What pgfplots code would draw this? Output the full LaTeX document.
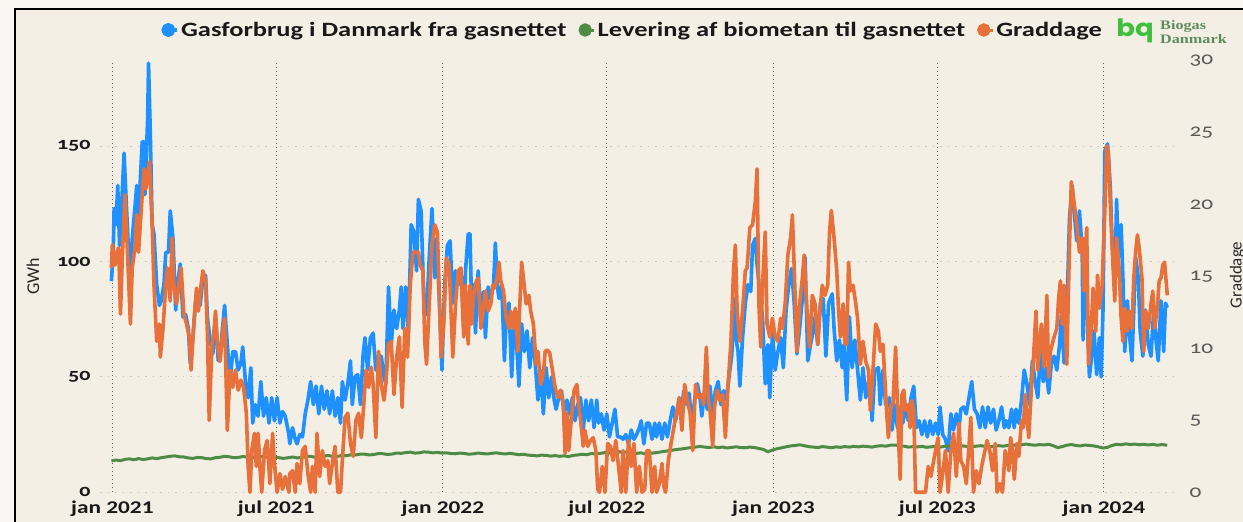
\documentclass[border=0pt]{standalone}
\usepackage{pgfplots}
\pgfplotsset{compat=1.18}
\usepackage{fontspec}
\setmainfont{Carlito}[FakeStretch=1.3]
\newfontfamily\tickfont{Carlito}[FakeStretch=1.3,Numbers=OldStyle]
\newfontfamily\plainfont{Carlito}
\newfontfamily\logofont{Liberation Serif}[FakeStretch=1.25]
\newfontfamily\logobq{Poppins}[FakeStretch=1.15]
\definecolor{bg}{RGB}{243,239,229}
\definecolor{gblue}{RGB}{30,144,255}
\definecolor{ggreen}{RGB}{78,139,69}
\definecolor{gorange}{RGB}{232,112,58}
\definecolor{logogreen}{RGB}{62,192,62}
\definecolor{logotext}{RGB}{95,140,95}
\begin{document}
\begin{tikzpicture}
\fill[bg] (0bp,0bp) rectangle (1243bp,522bp);
\fill[white!50!bg] (0bp,0bp) rectangle (15bp,522bp);
\fill[white!50!bg] (0bp,512.7bp) rectangle (1243bp,522bp);
\draw[black, line width=2bp] (15bp,0bp) -- (15bp,512.7bp) -- (1243bp,512.7bp);

\begin{axis}[
  at={(100bp,29.7bp)}, anchor=south west,
  width=1075bp, height=431.4bp, scale only axis,
  xmin=-13.6, xmax=1173.5, ymin=0, ymax=187,
  clip=false,
  axis line style={draw=none},
  major tick style={draw=none},
  xtick={0,181,365,546,730,911,1095},
  xticklabels={jan 2021,jul 2021,jan 2022,jul 2022,jan 2023,jul 2023,jan 2024},
  ytick={0,50,100,150},
  xmajorgrids, ymajorgrids,
  x grid style={color=black!60, line width=1.1bp, dash pattern=on 1bp off 3bp},
  y grid style={color=black!22, line width=1bp, dash pattern=on 1.5bp off 6bp},
  xticklabel style={font={\bfseries\fontsize{18}{20}\selectfont}, text=black!90, yshift=-5bp},
  yticklabel style={font={\tickfont\bfseries\fontsize{17}{20}\selectfont}, text=black!90, xshift=-6bp},
  /pgf/number format/assume math mode=true,
  legend columns=3,
  legend style={at={(0.4955,1.0716)}, anchor=center, draw=none, fill=none,
    font={\bfseries\fontsize{20.4}{24}\selectfont}, text=black!90,
    /tikz/every even column/.append style={column sep=10bp}},
  legend image code/.code={\fill[#1] (0bp,0bp) circle (5.2bp); \path (-5.2bp,0bp) -- (9bp,0bp);},
]
\addplot[color=gblue, line width=3.6bp, line join=round] coordinates {
(-1,91.5)(1,104)(2,123)(4,116)(6,133)(8,107)(10,122)(13,147)(15,129)(18,104)(20,96)(22,110)(24,119)(27,133)(29,120)(33,152)(35,152)(36,129)(39,162)(40,186)(42,155)(44,116)(46,112)(49,90)(52,81)(54,83)(57,90)(59,104)(62,104)(64,122)(67,110)(70,79)(72,90)(75,99)(78,76)(81,77)(84,71)(86,56)(89,67)(92,83)(94,87)(97,81)(100,93)(103,94)(105,76)(108,66)(111,60)(114,76)(117,57)(120,64)(124,81)(127,64)(130,48)(133,61)(136,61)(139,53)(142,56)(144,63)(147,48)(150,41)(153,54)(155,30)(158,38)(161,33)(164,48)(167,33)(170,41)(173,30)(176,41)(179,31)(182,41)(185,30)(188,35)(191,33)(195,25)
(196,21)(199,28)(202,23)(204,21)(207,25)(210,24)(213,34)(216,40)(219,48)(222,38)(225,46)(228,34)(231,46)(234,36)(237,44)(240,34)(243,44)(246,33)(249,41)(252,30)(254,48)(257,40)(260,47)(263,57)(265,38)(268,50)(271,51)(274,38)(277,60)(279,67)(282,53)(285,67)(288,69)(291,53)(294,59)(297,59)(300,50)(302,47)(305,89)(308,64)(311,79)(314,71)(317,79)(319,89)(321,71)(324,89)(327,69)(330,116)(333,113)(336,96)(338,127)(341,122)(344,84)(347,77)(350,102)(353,123)(356,93)(358,110)(361,84)(364,53)(367,90)(370,107)(373,109)(376,82)(379,96)(382,90)(385,96)(388,73)(390,96)(393,112)
(395,112)(397,76)(399,90)(401,69)(404,96)(407,76)(410,87)(412,67)(415,89)(418,84)(421,90)(423,108)(425,90)(427,84)(430,90)(433,57)(435,76)(438,82)(441,50)(444,76)(447,61)(449,46)(452,73)(455,61)(458,70)(461,54)(464,67)(467,56)(470,40)(473,53)(476,34)(479,54)(482,41)(485,50)(488,40)(490,36)(493,41)(496,44)(499,34)(502,40)(505,34)(508,41)(511,31)(514,38)(517,41)(520,27)(523,40)(526,31)(529,40)(532,28)(535,40)(537,30)(540,34)(543,27)(546,34)(549,24)(552,30)(555,36)(558,24)(561,24)(564,23)(567,25)(570,21)(573,27)(576,23)(579,25)(582,28)(584,31)(587,21)(590,30)
(593,30)(596,23)(599,30)(601,24)(604,30)(607,23)(610,30)(613,24)(616,31)(619,37)(622,31)(625,38)(628,33)(631,44)(634,38)(637,43)(640,28)(643,40)(646,47)(649,41)(651,33)(654,44)(657,36)(660,46)(663,34)(666,44)(669,48)(672,38)(675,44)(678,40)(681,50)(684,59)(687,84)(689,66)(691,61)(693,46)(696,67)(699,82)(702,90)(705,87)(707,107)(710,110)(712,99)(715,86)(718,76)(721,47)(724,64)(726,41)(729,69)(732,53)(735,61)(738,67)(741,54)(744,79)(747,90)(750,97)(753,82)(756,60)(759,71)(762,84)(765,102)(768,57)(771,64)(774,70)(776,76)(779,64)(782,82)(785,84)(788,59)(791,82)
(795,86)(797,71)(800,57)(803,66)(806,54)(808,64)(811,40)(814,76)(817,54)(820,66)(823,53)(826,40)(829,54)(832,41)(836,50)(839,31)(842,53)(846,54)(848,38)(851,53)(854,38)(858,41)(861,27)(864,38)(867,28)(870,37)(873,30)(876,38)(879,31)(882,41)(885,46)(888,28)(891,31)(894,25)(897,31)(900,24)(903,31)(906,25)(909,30)(912,25)(914,37)(917,25)(920,23)(923,18)(926,34)(929,27)(932,34)(935,28)(937,36)(940,37)(943,34)(946,41)(949,48)(952,36)(955,34)(958,28)(961,37)(964,28)(967,37)(970,30)(973,36)(976,27)(979,31)(982,37)(985,28)(987,31)
(990,28)(993,36)(996,28)(998,36)(1001,30)(1004,40)(1007,53)(1010,47)(1013,38)(1016,57)(1019,48)(1022,41)(1025,61)(1028,48)(1031,54)(1034,43)(1037,56)(1040,59)(1043,53)(1046,64)(1048,77)(1051,56)(1054,77)(1057,119)(1060,133)(1062,122)(1065,109)(1068,122)(1071,105)(1072,66)(1074,110)(1076,82)(1079,50)(1082,61)(1084,70)(1087,51)(1090,67)(1092,50)(1094,79)(1096,148)(1099,151)(1102,133)(1104,109)(1107,87)(1109,127)(1111,102)(1114,116)(1116,93)(1118,61)(1121,83)(1123,69)(1126,57)(1128,79)(1130,102)(1133,93)(1135,70)(1138,59)(1141,79)(1144,64)(1147,59)(1150,79)(1153,64)(1155,57)(1158,83)(1161,61)(1163,82)(1165,80)
};
\addlegendentry{Gasforbrug i Danmark fra gasnettet}
\addplot[color=ggreen, line width=3bp, line join=round] coordinates {
(-1,13.6)(4,14.0)(9,13.7)(14,14.3)(19,14.5)(24,14.1)(29,14.6)(34,14.2)(39,14.5)(44,14.9)(49,14.6)(54,15.0)(59,15.3)(64,15.6)(69,15.8)(74,15.4)(79,15.3)(84,14.9)(89,14.7)(94,15.1)(99,15.0)(104,14.6)(109,14.5)(114,15.0)(119,15.2)(124,15.6)(129,15.4)(134,15.0)(139,15.1)(144,15.5)(149,15.3)(154,14.9)(159,15.1)(164,15.5)(169,15.4)(174,15.0)(179,15.3)(184,15.0)(189,14.7)(194,15.0)(199,15.3)(204,14.9)(209,15.1)(214,15.5)(219,15.6)(224,15.2)(229,15.4)(234,15.8)(239,15.9)(244,15.5)(249,15.6)(254,16.0)(259,15.9)(264,16.3)(269,16.2)(274,16.6)(279,16.5)(284,16.2)(289,16.4)(294,16.8)(299,16.7)(304,16.4)(309,16.6)(314,17.0)(319,16.9)(324,17.2)(329,17.4)(334,17.0)(339,17.1)(344,17.5)(349,17.4)(354,17.1)(359,17.3)(364,17.0)(369,17.1)(374,16.8)(379,16.7)(384,17.0)(389,16.8)(394,16.5)(399,16.7)(404,17.0)(409,16.8)(414,16.6)(419,16.9)(424,17.1)(429,16.8)(434,16.6)(439,16.9)(444,16.6)(449,16.3)(454,16.5)(459,16.1)(464,16.0)(469,15.8)(474,16.1)(479,16.0)(484,15.7)(489,15.9)(494,15.6)(499,15.8)(504,15.5)(509,16.0)(514,16.2)(519,16.5)(524,16.3)(529,16.8)(534,16.6)(539,16.9)(544,17.2)(549,17.0)(554,17.4)(559,17.6)(564,17.3)(569,17.5)(574,17.1)(579,16.9)(584,17.1)(589,16.6)(594,16.9)(599,17.1)(604,17.4)(609,17.7)(614,18.0)(619,18.3)(624,18.6)(629,18.8)(634,19.1)(639,19.4)(644,19.6)(649,19.9)(654,19.6)(659,19.4)(664,19.7)(669,19.4)(674,19.6)(679,19.2)(684,19.5)(689,19.7)(694,19.4)(699,19.3)(704,19.6)(709,19.4)(714,19.0)(719,18.6)(724,17.6)(729,18.3)(734,18.9)(739,19.3)(744,19.7)(749,20.1)(754,20.3)(759,20.6)(764,20.2)(769,19.8)(774,19.6)(779,19.4)(784,19.8)(789,19.6)(794,19.3)(799,19.7)(804,19.5)(809,19.8)(814,19.6)(819,19.9)(824,19.7)(829,20.0)(834,19.8)(839,19.6)(844,20.0)(849,20.2)(854,20.0)(859,20.4)(864,20.5)(869,20.2)(874,20.0)(879,19.6)(884,19.8)(889,19.7)(894,19.9)(899,19.5)(904,19.7)(909,19.9)(914,19.6)(919,19.9)(924,20.1)(929,19.7)(934,19.8)(939,20.1)(944,19.9)(949,19.7)(954,20.0)(959,20.2)(964,19.9)(969,19.7)(974,20.0)(979,20.2)(984,20.0)(989,20.3)(994,20.5)(999,20.3)(1004,20.6)(1009,20.9)(1014,20.6)(1019,20.4)(1024,20.7)(1029,20.5)(1034,20.8)(1039,20.2)(1044,19.4)(1049,19.8)(1054,20.4)(1059,20.7)(1064,20.3)(1069,20.1)(1074,20.5)(1079,20.3)(1084,20.1)(1089,19.7)(1094,19.2)(1099,19.5)(1104,20.3)(1109,20.8)(1114,20.6)(1119,21.0)(1124,20.7)(1129,20.9)(1134,20.6)(1139,20.8)(1144,20.5)(1149,20.8)(1154,20.4)(1159,20.7)(1165,20.4)
};
\addlegendentry{Levering af biometan til gasnettet}
\addlegendimage{color=gorange, line width=3bp}
\addlegendentry{Graddage}
\end{axis}

\begin{axis}[
  at={(100bp,29.7bp)}, anchor=south west,
  width=1075bp, height=431.4bp, scale only axis,
  xmin=-13.6, xmax=1173.5, ymin=0, ymax=30,
  clip=false,
  axis x line=none, axis y line*=right,
  axis line style={draw=none},
  major tick style={draw=none},
  ytick={0,5,10,15,20,25,30},
  yticklabel style={font={\tickfont\fontsize{18}{20}\selectfont}, text=black!65, xshift=11bp},
  /pgf/number format/assume math mode=true,
]
\addplot[color=gorange, line width=3.6bp, line join=round] coordinates {
(-1,15.6)(0,17.2)(3,15.8)(5,16.7)(7,17.0)(9,12.4)(11,16.3)(14,20.7)(17,16.3)(20,11.7)(22,15.6)(25,17.0)(27,19.3)(29,16.7)(32,19.7)(35,22.5)(37,21.1)(39,22.0)(41,23.0)(44,18.6)(46,14.4)(49,10.5)(52,11.7)(53,9.4)(56,11.4)(59,14.4)(61,15.6)(64,13.3)(66,17.7)(68,14.4)(71,13.1)(74,14.7)(76,15.6)(79,12.4)(82,11.7)(85,10.8)(87,8.5)(90,11.7)(93,14.2)(95,12.6)(98,14.4)(100,15.4)(103,14.7)(105,11.0)(107,5.0)(110,10.3)(112,11.0)(114,12.6)(116,10.3)(119,9.1)(122,11.2)(124,12.1)(127,4.3)(130,8.5)(133,7.3)(136,8.5)(139,7.1)(142,7.8)(145,7.3)(148,5.5)(150,1.8)(152,0)(154,2.9)(157,4.1)(159,1.8)(161,4.1)(163,1.8)(165,0)(168,2.9)(171,3.6)(174,0.6)(177,4.1)(179,2.0)(182,0)(185,1.3)(188,0.2)(191,1.1)(195,0)
(196,1.3)(199,1.5)(202,0)(204,2.0)(207,0.6)(210,2.9)(213,3.2)(216,1.3)(219,0)(221,1.8)(224,0)(226,4.1)(229,1.1)(232,2.9)(235,1.8)(238,2.2)(240,0.6)(243,2.0)(246,3.2)(249,0)(252,0)(254,2.2)(257,5.2)(260,5.5)(263,3.4)(266,2.5)(269,5.0)(272,5.5)(275,3.8)(278,6.4)(280,8.5)(283,7.3)(286,8.7)(288,7.5)(291,3.8)(294,9.8)(297,7.5)(300,6.4)(302,7.5)(305,10.3)(308,10.5)(311,6.8)(314,9.4)(317,10.8)(320,5.9)(323,11.4)(326,9.4)(329,14.4)(332,16.7)(335,16.7)(338,16.7)(340,15.8)(343,15.4)(345,10.5)(347,8.9)(350,13.1)(353,17.2)(356,18.6)(359,18.1)(361,14.0)(363,9.4)(366,11.7)(369,16.3)(372,15.8)(376,9.4)(379,13.1)(382,15.4)(385,15.6)(388,10.8)(390,14.4)(393,10.3)
(395,14.4)(397,11.7)(399,13.7)(402,14.7)(404,14.9)(407,11.4)(409,12.4)(412,14.0)(415,12.6)(418,13.1)(420,14.4)(422,14.2)(425,14.9)(427,16.0)(429,14.7)(432,14.0)(435,12.1)(438,11.4)(440,12.6)(443,11.4)(445,12.8)(448,9.8)(450,13.1)(452,16.0)(454,14.9)(457,13.1)(460,13.7)(462,12.6)(465,11.7)(468,8.9)(470,9.8)(473,7.5)(476,8.2)(478,9.8)(480,9.9)(483,9.7)(486,8.5)(489,7.3)(492,6.6)(495,7.1)(498,6.1)(500,2.7)(502,5.5)(504,2.9)(507,5.2)(510,7.1)(513,7.5)(515,6.1)(518,4.5)(520,3.2)(522,4.3)(525,3.2)(528,3.6)(531,3.8)(534,2.9)(536,0.2)(538,0)(541,1.8)(544,0)(547,3.4)(550,3.2)(553,2.2)(556,3.6)(559,1.8)(562,0)(564,2.9)(567,0)(570,3.6)(573,1.8)(576,3.4)(579,0)(582,1.8)(585,0)(588,0.2)(590,2.9)
(593,2.9)(596,0)(599,1.8)(601,0)(604,0.6)(607,2.0)(609,0.4)(611,0)(614,2.2)(617,3.4)(620,4.5)(623,5.5)(626,6.6)(629,4.3)(632,7.5)(635,6.4)(638,5.5)(641,2.9)(644,7.5)(647,6.6)(650,6.8)(653,6.1)(656,10.1)(658,6.6)(660,5.7)(663,3.2)(665,5.9)(668,7.1)(671,6.4)(674,6.8)(677,3.8)(680,7.5)(683,10.3)(686,15.4)(688,17.2)(690,12.6)(693,10.5)(696,12.6)(699,15.4)(701,15.6)(704,18.4)(707,18.6)(710,20.2)(712,22.5)(714,13.1)(716,10.1)(718,14.4)(721,18.1)(723,11.7)(726,10.8)(729,12.1)(732,10.8)(735,10.5)(738,12.1)(740,11.4)(743,13.1)(746,16.5)(749,17.7)(751,19.3)(753,15.6)(756,9.8)(759,13.1)(762,14.9)(764,16.5)(767,12.8)(770,10.1)(773,13.7)(776,13.1)(779,10.3)(781,12.4)(784,14.4)(787,13.7)(790,14.4)(792,18.1)
(794,19.6)(797,17.7)(800,15.4)(802,12.6)(804,10.8)(807,13.1)(809,10.3)(811,10.3)(813,16.0)(815,14.0)(818,14.4)(821,13.1)(823,12.1)(826,8.9)(829,10.5)(832,9.1)(835,8.5)(837,5.7)(840,8.5)(843,11.7)(846,11.2)(848,9.8)(851,10.3)(853,8.0)(855,5.7)(857,3.8)(860,6.1)(862,6.1)(865,10.1)(868,4.1)(870,0.9)(872,6.8)(874,7.1)(876,5.7)(879,6.1)(881,4.5)(883,6.4)(885,5.7)(887,0)(898,0)(901,1.8)(904,1.1)(907,2.2)(910,3.2)(912,3.8)(914,0)(917,1.3)(920,2.9)(923,0)(926,2.9)(929,4.1)(932,1.1)(935,4.8)(937,2.2)(940,1.8)(943,0.6)(946,3.2)(948,5.2)(951,0)(954,1.5)(957,0.6)(960,1.8)(963,2.7)(966,3.6)(969,2.9)(972,1.5)(975,3.4)(977,0)(980,0.6)(983,0)(986,2.9)(989,2.0)
(990,1.5)(992,3.8)(994,2.9)(996,0.9)(999,3.4)(1001,2.5)(1004,5.0)(1006,4.5)(1008,6.8)(1010,5.2)(1012,3.8)(1015,7.3)(1017,9.1)(1020,12.6)(1022,8.5)(1024,10.3)(1026,11.7)(1029,8.7)(1032,13.7)(1034,8.0)(1036,9.8)(1038,10.3)(1040,10.8)(1043,11.4)(1045,13.5)(1047,14.7)(1049,11.7)(1051,14.4)(1054,8.9)(1057,17.2)(1059,21.6)(1062,20.2)(1065,18.6)(1068,16.7)(1071,17.7)(1073,14.0)(1076,18.4)(1078,8.9)(1081,11.4)(1083,14.2)(1086,11.2)(1088,15.1)(1090,12.8)(1093,14.4)(1096,19.5)(1098,24.1)(1100,23.6)(1102,20.2)(1104,17.2)(1107,13.3)(1109,17.7)(1112,15.4)(1114,12.1)(1116,10.5)(1118,12.8)(1121,11.2)(1123,12.6)(1126,11.4)(1128,14.9)(1130,16.7)(1132,17.9)(1134,17.0)(1137,14.9)(1139,9.8)(1141,12.6)(1144,11.4)(1147,13.1)(1149,14.0)(1151,11.4)(1154,12.8)(1156,14.7)(1158,14.9)(1160,15.8)(1162,16.0)(1165,13.7)
};
\end{axis}

\node[rotate=90, anchor=base, font={\plainfont\fontsize{18}{20}\selectfont}, text=black!85] at (39bp,246bp) {GWh};
\node[rotate=90, anchor=base, font={\plainfont\fontsize{17}{20}\selectfont}, text=black!85] at (1241.5bp,247bp) {Graddage};
\node[text=logogreen, font={\logobq\bfseries\fontsize{24}{24}\selectfont}, inner sep=0] at (1135bp,491bp) {bq};
\node[anchor=west, text=logotext, font={\logofont\bfseries\fontsize{13}{14}\selectfont}, align=left, inner sep=0] at (1160bp,490bp) {Biogas\\Danmark};
\pgfresetboundingbox
\useasboundingbox (0bp,0bp) rectangle (1243bp,522bp);
\end{tikzpicture}
\end{document}
